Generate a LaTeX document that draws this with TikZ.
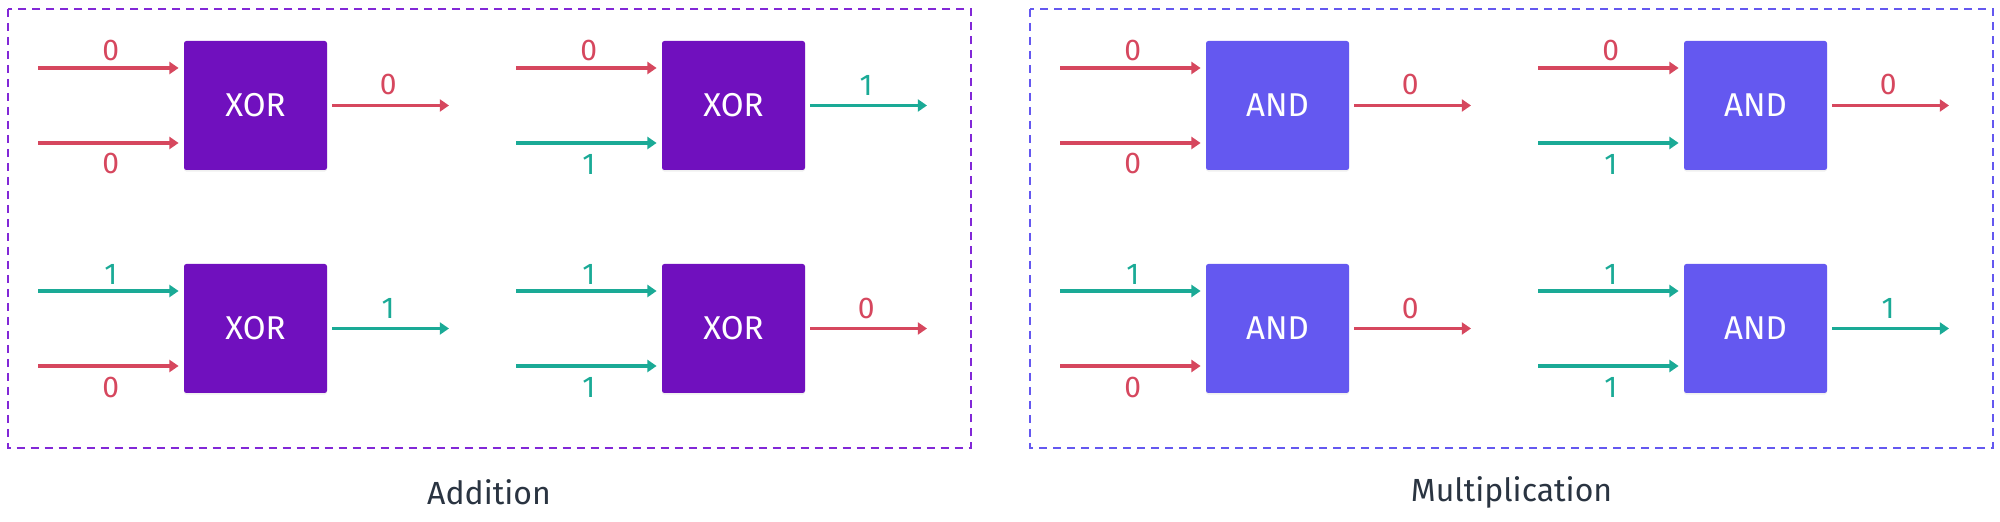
\documentclass[tikz,border=0pt]{standalone}
\usepackage{fontspec}
\setmainfont{Fira Sans}
\usetikzlibrary{arrows.meta,shadows}
\definecolor{cred}{RGB}{214,71,94}
\definecolor{cteal}{RGB}{26,170,150}
\definecolor{xorfill}{RGB}{112,16,190}
\definecolor{andfill}{RGB}{100,88,240}
\definecolor{xorborder}{RGB}{130,40,215}
\definecolor{capcol}{RGB}{42,52,65}
\tikzset{
  col0/.style={cred},
  col1/.style={cteal},
  wire/.style={line width=1.7pt,-{Triangle[length=4.6pt,width=6pt]}},
  bit/.style={font=\fontsize{15}{18}\selectfont,inner sep=0pt},
  gatebox/.style={minimum width=71.5pt,minimum height=64.5pt,rounded corners=1.2pt,
    text=white,font=\fontsize{16.5}{19}\selectfont,inner sep=0pt,
    drop shadow={opacity=0.12,shadow xshift=0pt,shadow yshift=-0.8pt}},
  xorbox/.style={gatebox,fill=xorfill},
  andbox/.style={gatebox,fill=andfill},
  panel/.style={line width=1pt,dash pattern=on 4pt off 3pt},
  caption/.style={font=\fontsize{16}{19}\selectfont,text=capcol},
}
\newcommand{\gate}[8]{%
  \begin{scope}[shift={(#2,#3)}]
    \node[#5] (#1) at (0,0) {#4};
    \coordinate (#1a) at (-217.5,-37.5);
    \coordinate (#1b) at (-217.5,37.5);
    \coordinate (#1o) at (193.5,0);
    \draw[wire,col#6,shorten >=2.5pt] (#1a) -- (#1a -| #1.west)
      node[bit,midway,yshift=8.5pt,text=cred,col#6] {#6};
    \draw[wire,col#7,shorten >=2.5pt] (#1b) -- (#1b -| #1.west)
      node[bit,midway,yshift=-10.5pt,col#7] {#7};
    \draw[wire,col#8,shorten <=2.5pt] (#1.east) -- (#1o)
      node[bit,midway,yshift=10.25pt,col#8] {#8};
  \end{scope}}
\begin{document}
\begin{tikzpicture}[x=0.5pt,y=-0.5pt]
  \useasboundingbox (0,0) rectangle (2000,522);
  % panels
  \draw[panel,draw=xorborder] (7.7,9) rectangle (971,448);
  \draw[panel,draw=andfill] (1030,9) rectangle (1993,448);
  % XOR gates
  \gate{x1}{255.5}{105.5}{XOR}{xorbox}{0}{0}{0}
  \gate{x2}{733.5}{105.5}{XOR}{xorbox}{0}{1}{1}
  \gate{x3}{255.5}{328.5}{XOR}{xorbox}{1}{0}{1}
  \gate{x4}{733.5}{328.5}{XOR}{xorbox}{1}{1}{0}
  % AND gates
  \gate{a1}{1277.5}{105.5}{AND}{andbox}{0}{0}{0}
  \gate{a2}{1755.5}{105.5}{AND}{andbox}{0}{1}{0}
  \gate{a3}{1277.5}{328.5}{AND}{andbox}{1}{0}{0}
  \gate{a4}{1755.5}{328.5}{AND}{andbox}{1}{1}{1}
  % captions
  \node[caption] (capadd) at (489,492) {Addition};
  \node[caption] (capmul) at (1511.5,492) {Multiplication};
\end{tikzpicture}
\end{document}
